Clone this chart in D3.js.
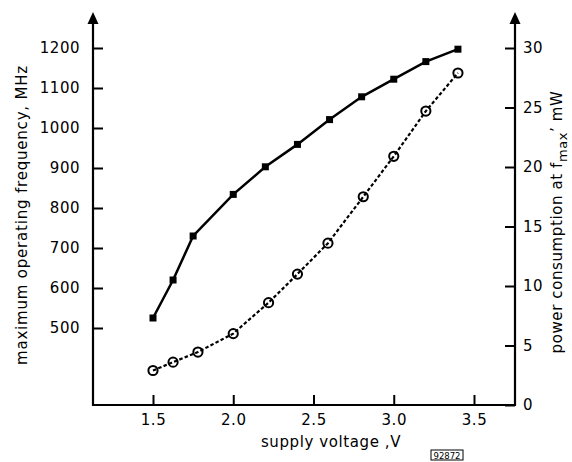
<!DOCTYPE html>
<html>
<head>
<meta charset="utf-8">
<script src="https://cdn.jsdelivr.net/npm/d3@7"></script>
<style>
  html, body { margin: 0; padding: 0; background: #fff; }
  svg { display: block; }
  text { font-family: "DejaVu Sans", sans-serif; fill: #000; }
</style>
</head>
<body>
<svg id="chart" width="572" height="462"></svg>
<script>
// ---- data ----
const freqVoltage = [1.5, 1.625, 1.75, 2.0, 2.2, 2.4, 2.6, 2.8, 3.0, 3.2, 3.4];
const freqMHz     = [525, 620, 730, 834, 903, 959, 1021, 1078, 1122, 1166, 1197];
const powerVoltage = [1.5, 1.625, 1.78, 2.0, 2.22, 2.4, 2.59, 2.81, 3.0, 3.2, 3.4];
const powerMW      = [2.9, 3.6, 4.45, 6.0, 8.6, 11.0, 13.6, 17.5, 20.9, 24.7, 27.9];
const xTicks = [1.5, 2.0, 2.5, 3.0, 3.5];
const leftTicks = [500, 600, 700, 800, 900, 1000, 1100, 1200];
const rightTicks = [0, 5, 10, 15, 20, 25, 30];

const svg = d3.select("#chart");

const x = d3.scaleLinear().domain([1.5, 3.5]).range([153, 474]);
const yL = d3.scaleLinear().domain([500, 1200]).range([328, 48]);
const yR = d3.scaleLinear().domain([0, 30]).range([405, 48]);

const xLeft = 93, xRight = 515, yBottom = 405, yTop = 12;

// axes (custom domain lines with arrows)
const frame = svg.append("g").attr("stroke", "#000").attr("stroke-width", 2.2).attr("fill", "none");
frame.append("line").attr("x1", xLeft).attr("x2", xRight).attr("y1", yBottom).attr("y2", yBottom);
frame.append("line").attr("x1", xLeft).attr("x2", xLeft).attr("y1", yBottom + 1).attr("y2", yTop + 6);
frame.append("line").attr("x1", xRight).attr("x2", xRight).attr("y1", yBottom + 1).attr("y2", yTop + 6);
[xLeft, xRight].forEach(ax => {
  svg.append("path")
    .attr("d", `M${ax},${yTop} L${ax - 5.5},${yTop + 12} L${ax + 5.5},${yTop + 12} Z`)
    .attr("fill", "#000");
});

function styleAxis(g) {
  g.select(".domain").remove();
  g.selectAll(".tick line").attr("stroke", "#000").attr("stroke-width", 2);
  g.selectAll(".tick text").attr("font-size", 15).attr("fill", "#111")
    .attr("letter-spacing", 0.5)
    .attr("font-family", '"DejaVu Sans", sans-serif');
}

svg.append("g").attr("transform", `translate(0,${yBottom})`)
  .call(d3.axisBottom(x).tickValues(xTicks).tickFormat(d3.format(".1f")).tickSize(-10).tickPadding(9))
  .call(styleAxis);

svg.append("g").attr("transform", `translate(${xLeft},0)`)
  .call(d3.axisLeft(yL).tickValues(leftTicks).tickFormat(d3.format("d")).tickSize(-10).tickPadding(13))
  .call(styleAxis);

svg.append("g").attr("transform", `translate(${xRight},0)`)
  .call(d3.axisRight(yR).tickValues(rightTicks).tickFormat(d3.format("d")).tickSize(-10).tickPadding(8))
  .call(styleAxis);

// frequency series
const freqData = freqVoltage.map((v, i) => ({ v, f: freqMHz[i] }));
svg.append("path").datum(freqData)
  .attr("d", d3.line().x(d => x(d.v)).y(d => yL(d.f)))
  .attr("fill", "none").attr("stroke", "#000").attr("stroke-width", 2.5);
svg.selectAll(".sq").data(freqData).enter().append("rect")
  .attr("x", d => x(d.v) - 3.5).attr("y", d => yL(d.f) - 3.5)
  .attr("width", 7).attr("height", 7).attr("fill", "#000");

// power series
const powData = powerVoltage.map((v, i) => ({ v, p: powerMW[i] }));
svg.selectAll(".ci").data(powData).enter().append("circle")
  .attr("cx", d => x(d.v)).attr("cy", d => yR(d.p)).attr("r", 4.6)
  .attr("fill", "#fff").attr("stroke", "#000").attr("stroke-width", 2);
svg.append("path").datum(powData)
  .attr("d", d3.line().x(d => x(d.v)).y(d => yR(d.p)))
  .attr("fill", "none").attr("stroke", "#000").attr("stroke-width", 2.2)
  .attr("stroke-dasharray", "3.5,2.2");

// titles
svg.append("text")
  .attr("transform", "translate(27,215) rotate(-90)")
  .attr("text-anchor", "middle").attr("font-size", 15).attr("letter-spacing", 0.8)
  .text("maximum operating frequency, MHz");

const rt = svg.append("text")
  .attr("transform", "translate(562,222) rotate(-90)")
  .attr("text-anchor", "middle").attr("font-size", 15).attr("letter-spacing", 0.6);
rt.append("tspan").text("power consumption at f");
rt.append("tspan").attr("font-size", 13).attr("dy", 5).text("max");
rt.append("tspan").attr("dy", -5).text("\u2019 mW");

svg.append("text")
  .attr("x", 331).attr("y", 447)
  .attr("text-anchor", "middle").attr("font-size", 15).attr("letter-spacing", 0.6)
  .text("supply voltage ,V");

// figure code box
svg.append("rect").attr("x", 431).attr("y", 450).attr("width", 32).attr("height", 10)
  .attr("fill", "none").attr("stroke", "#000").attr("stroke-width", 1);
svg.append("text").attr("x", 447).attr("y", 458.5).attr("text-anchor", "middle")
  .attr("font-size", 8.5).text("92872");
</script>
</body>
</html>
